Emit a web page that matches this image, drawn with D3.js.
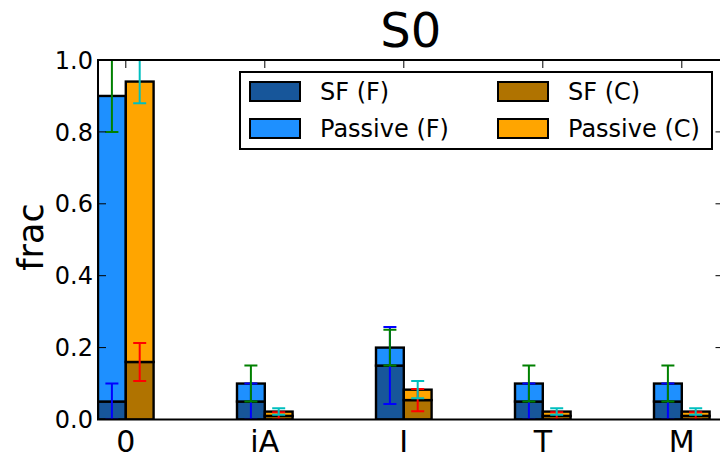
<!DOCTYPE html>
<html>
<head>
<meta charset="utf-8">
<script src="https://cdn.jsdelivr.net/npm/d3@7"></script>
<style>
  body { margin: 0; background: #fff; }
  svg { display: block; font-family: "DejaVu Sans", sans-serif; }
</style>
</head>
<body>
<svg id="chart" width="720" height="458"></svg>
<script>
// Categories along the x axis
const categories = ["0", "iA", "I", "T", "M"];

// F group: star-forming part and total (SF + passive)
const sfF = [0.05, 0.05, 0.15, 0.05, 0.05];
const totalF = [0.90, 0.10, 0.20, 0.10, 0.10];
const sfFErr = [0.05, 0.05, 0.107, 0.05, 0.05];
const totalFErr = [0.10, 0.05, 0.05, 0.05, 0.05];

// C group: star-forming part and total (SF + passive)
const sfC = [0.16, 0.01, 0.054, 0.01, 0.01];
const totalC = [0.94, 0.022, 0.083, 0.022, 0.022];
const sfCErr = [0.053, 0.01, 0.031, 0.01, 0.01];
const totalCErr = [0.06, 0.009, 0.024, 0.009, 0.009];

const yTicks = [0, 0.2, 0.4, 0.6, 0.8, 1.0];
const legendItems = [
  { label: "SF (F)", color: "#17569a" },
  { label: "SF (C)", color: "#b07300" },
  { label: "Passive (F)", color: "#1e90ff" },
  { label: "Passive (C)", color: "#ffa500" }
];

const svg = d3.select("#chart");
const mLeft = 98, mRight = 723.5, mTop = 60, mBottom = 419.5;
const barW = 0.2;

const x = d3.scaleLinear().domain([-0.2, 4.3]).range([mLeft, mRight]);
const y = d3.scaleLinear().domain([0, 1]).range([mBottom, mTop]);

svg.append("defs").append("clipPath").attr("id", "plot")
  .append("rect").attr("x", mLeft).attr("y", mTop)
  .attr("width", mRight - mLeft).attr("height", mBottom - mTop);

const plot = svg.append("g").attr("clip-path", "url(#plot)");

// Stacked bars: F sits to the left of each category position, C to the right
const stacks = [
  { off: -barW, lo: () => 0, hi: i => sfF[i], color: "#17569a" },
  { off: -barW, lo: i => sfF[i], hi: i => totalF[i], color: "#1e90ff" },
  { off: 0, lo: () => 0, hi: i => sfC[i], color: "#b07300" },
  { off: 0, lo: i => sfC[i], hi: i => totalC[i], color: "#ffa500" }
];
stacks.forEach(s => {
  plot.selectAll(null).data(categories).join("rect")
    .attr("x", (d, i) => x(i + s.off))
    .attr("width", x(barW) - x(0))
    .attr("y", (d, i) => y(s.hi(i)))
    .attr("height", (d, i) => y(s.lo(i)) - y(s.hi(i)))
    .attr("fill", s.color)
    .attr("stroke", "#000")
    .attr("stroke-width", 2.4);
});

// Error bars at the centre of each bar
const errs = [
  { off: -barW / 2, v: sfF, e: sfFErr, color: "#0000ff" },
  { off: -barW / 2, v: totalF, e: totalFErr, color: "#008000" },
  { off: barW / 2, v: sfC, e: sfCErr, color: "#ff0000" },
  { off: barW / 2, v: totalC, e: totalCErr, color: "#00bfbf" }
];
const capHalf = 6.5;
errs.forEach(s => {
  const g = plot.append("g").attr("stroke", s.color).attr("stroke-width", 2);
  categories.forEach((c, i) => {
    const cx = x(i + s.off);
    const y0 = y(s.v[i] - s.e[i]), y1 = y(s.v[i] + s.e[i]);
    g.append("line").attr("x1", cx).attr("x2", cx).attr("y1", y0).attr("y2", y1);
    g.append("line").attr("x1", cx - capHalf).attr("x2", cx + capHalf).attr("y1", y0).attr("y2", y0);
    g.append("line").attr("x1", cx - capHalf).attr("x2", cx + capHalf).attr("y1", y1).attr("y2", y1);
  });
});

// Frame
svg.append("rect").attr("x", mLeft).attr("y", mTop)
  .attr("width", mRight - mLeft).attr("height", mBottom - mTop)
  .attr("fill", "none").attr("stroke", "#000").attr("stroke-width", 2);

// Inward ticks on all four sides
const tickLen = 8;
const tk = svg.append("g").attr("stroke", "#000").attr("stroke-width", 1);
yTicks.forEach(t => {
  tk.append("line").attr("x1", mLeft).attr("x2", mLeft + tickLen).attr("y1", y(t)).attr("y2", y(t));
  tk.append("line").attr("x1", mRight - tickLen).attr("x2", mRight).attr("y1", y(t)).attr("y2", y(t));
});
categories.forEach((c, i) => {
  tk.append("line").attr("x1", x(i)).attr("x2", x(i)).attr("y1", mTop).attr("y2", mTop + tickLen);
  tk.append("line").attr("x1", x(i)).attr("x2", x(i)).attr("y1", mBottom).attr("y2", mBottom - tickLen);
});

// Tick labels
svg.append("g").selectAll("text").data(yTicks).join("text")
  .attr("x", mLeft - 5).attr("y", d => y(d)).attr("dy", "0.36em")
  .attr("text-anchor", "end").attr("font-size", 24)
  .text(d => d.toFixed(1));
svg.append("g").selectAll("text").data(categories).join("text")
  .attr("x", (d, i) => x(i)).attr("y", 452)
  .attr("text-anchor", "middle").attr("font-size", 30)
  .text(d => d);

// Axis label and title
svg.append("text").attr("transform", "translate(43,237) rotate(-90)")
  .attr("text-anchor", "middle").attr("font-size", 35).text("frac");
svg.append("text").attr("x", (mLeft + mRight) / 2).attr("y", 47)
  .attr("text-anchor", "middle").attr("font-size", 48).text("S0");

// Legend
const lg = svg.append("g");
lg.append("rect").attr("x", 240).attr("y", 72).attr("width", 472).attr("height", 77)
  .attr("fill", "#fff").attr("stroke", "#000").attr("stroke-width", 2);
legendItems.forEach((it, k) => {
  const col = k % 2, row = Math.floor(k / 2);
  const sx = 250 + col * 248, sy = 82 + row * 37;
  lg.append("rect").attr("x", sx).attr("y", sy).attr("width", 50).attr("height", 19)
    .attr("fill", it.color).attr("stroke", "#000").attr("stroke-width", 2);
  lg.append("text").attr("x", sx + 70).attr("y", sy + 9.5).attr("dy", "0.36em")
    .attr("font-size", 24).text(it.label);
});
</script>
</body>
</html>
